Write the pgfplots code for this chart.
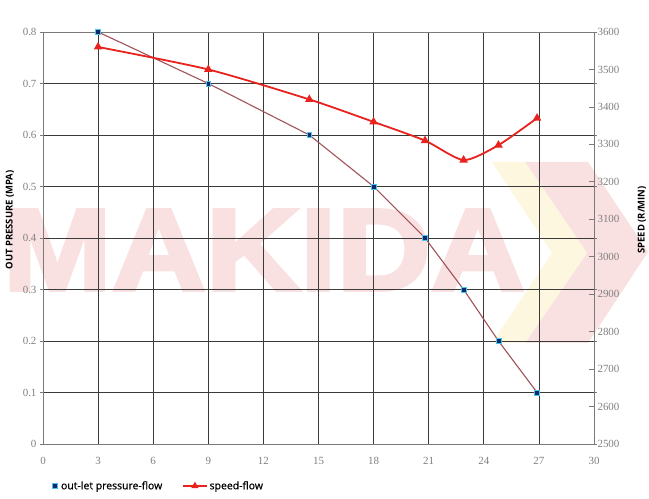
\documentclass[border=0pt]{standalone}
\usepackage{pgfplots}
\pgfplotsset{compat=1.18}
\usepackage{fontspec}
\setmainfont{Liberation Serif}
\newfontfamily\lab{Open Sans}
\newfontfamily\legf{Open Sans}[FakeBold=0.8]
\newfontfamily\wm{Liberation Sans Bold}[FakeBold=3]
\definecolor{wmpink}{HTML}{FAE1E1}
\definecolor{wmyellow}{HTML}{FDF7E0}
\definecolor{gridc}{HTML}{3A3A3A}
\definecolor{framec}{HTML}{7A7A7A}
\definecolor{tickc}{HTML}{808080}
\definecolor{presc}{HTML}{A0525A}
\definecolor{presmark}{HTML}{0E2A6E}
\definecolor{presedge}{HTML}{4FC3E6}
\definecolor{speedc}{HTML}{E8221C}
\pgfplotsset{
  presleg/.style={legend image code/.code={\path[draw=none] (0bp,0bp) rectangle (12bp,0.1bp); \path[##1, draw=none] (5bp,0bp) node[inner sep=0pt, minimum size=4.8bp, fill=presmark, draw=presedge, line width=0.5bp] {};}},
  speedleg/.style={legend image code/.code={\draw[##1, mark=none] (0bp,0bp) -- (24bp,0bp); \draw[##1] plot coordinates {(12bp,0bp)};}},
}
\begin{document}
\begin{tikzpicture}
\path[use as bounding box] (-43bp,-55bp) rectangle (606bp,444bp);
% watermark
\fill[wmpink] (482bp,282bp) -- (545bp,282bp) -- (605bp,192bp) -- (545bp,101bp) -- (482bp,101bp) -- (544bp,191bp) -- cycle;
\fill[wmyellow] (449bp,282bp) -- (482bp,282bp) -- (544bp,191bp) -- (482bp,101bp) -- (449bp,101bp) -- (509bp,191bp) -- cycle;
\node[text=wmpink, inner sep=0pt, font=\wm\fontsize{117}{117}\selectfont, xscale=1.12] at (221bp,194bp) {MAKIDA};
\begin{axis}[
  at={(0,0)}, anchor=south west, scale only axis,
  width=551bp, height=412bp,
  xmin=0, xmax=30, ymin=0, ymax=0.8,
  xtick={0,3,...,30}, ytick={0,0.1,0.2,0.3,0.4,0.5,0.6,0.7,0.8},
  grid=major, major grid style={draw=gridc, line width=0.8bp},
  axis line style={draw=framec, line width=0.8bp},
  tick label style={font=\fontsize{11}{11}\selectfont, text=tickc},
  xticklabel style={yshift=-7bp},
  /pgf/number format/assume math mode=true,
  yticklabel style={/pgf/number format/fixed, /pgf/number format/precision=1},
  xtick style={draw=none},
  ytick style={draw=framec, line width=0.8bp},
  tick align=outside, major tick length=3bp,
  ylabel={OUT PRESSURE (MPA)},
  ylabel style={font=\lab\bfseries\fontsize{9.5}{9.5}\selectfont, at={(axis description cs:-0.06,0.544)}, anchor=center},
  legend columns=2,
  legend cell align=left,
  legend style={draw=none, fill=none, inner sep=0pt, at={(axis description cs:0.007,-0.102)}, anchor=west,
    font=\legf\fontsize{10.5}{10.5}\selectfont,
    /tikz/every even column/.append style={column sep=18bp}},
]
\addplot[presc, line width=1.1bp, mark=square*, mark size=2.4bp,
  mark options={fill=presmark, draw=presedge, line width=0.5bp}, forget plot]
  coordinates {(3,0.8)(9,0.7)(14.5,0.6)(18,0.5)(20.8,0.4)(22.9,0.3)(24.8,0.2)(26.9,0.1)};
\addlegendimage{presleg}
\addlegendentry{out-let pressure-flow}
\addlegendimage{speedleg, speedc, line width=1.4bp, mark=triangle*, mark size=3bp}
\addlegendentry{speed-flow}
\node[font=\legf\fontsize{10.5}{10.5}\selectfont, anchor=center] at (axis description cs:0.978,-0.102) {flow L-S};
\end{axis}
\begin{axis}[
  at={(0,0)}, anchor=south west, scale only axis,
  width=551bp, height=412bp,
  xmin=0, xmax=30, ymin=2500, ymax=3600,
  axis x line=none, axis y line*=right,
  ytick={2500,2600,...,3600},
  axis line style={draw=framec, line width=0.8bp},
  ytick style={draw=framec, line width=0.8bp},
  tick align=inside, major tick length=5bp,
  tick label style={font=\fontsize{11}{11}\selectfont, text=tickc},
  /pgf/number format/assume math mode=true,
  /pgf/number format/set thousands separator={},
  ylabel={SPEED (R/MIN)},
  ylabel style={font=\lab\bfseries\fontsize{9.5}{9.5}\selectfont, at={(axis description cs:1.087,0.544)}, anchor=center},
]
\addplot[speedc, line width=1.8bp, smooth, tension=0.4, mark=triangle*, mark size=3.2bp, mark options={solid}]
  coordinates {(3,3560)(9,3500)(14.5,3420)(18,3360)(20.8,3310)(22.9,3258)(24.8,3298)(26.9,3370)};
\end{axis}
\end{tikzpicture}
\end{document}
